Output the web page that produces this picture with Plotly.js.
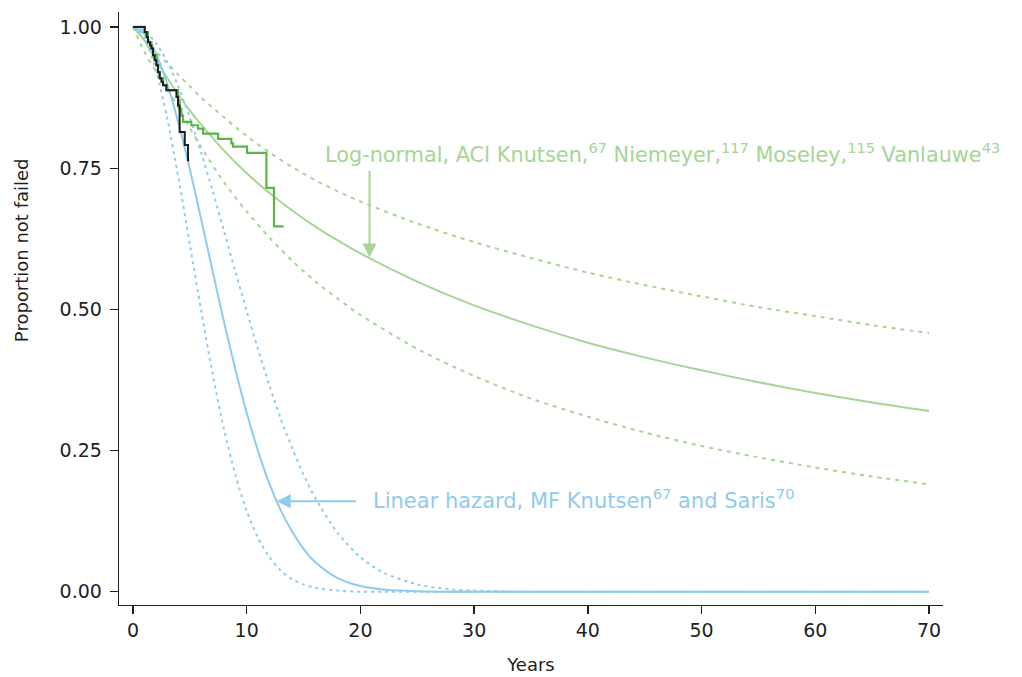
<!DOCTYPE html>
<html>
<head>
<meta charset="utf-8">
<script src="https://cdn.plot.ly/plotly-3.0.1.min.js"></script>
<style>
  html, body { margin: 0; padding: 0; background: #fff; }
  #chart { width: 1022px; height: 677px; }
</style>
</head>
<body>
<div id="chart"></div>
<script>
// Time grid (years) for the fitted survival curves
const yearsFit = [0, 1, 2, 3, 4, 5, 6, 8, 10, 12, 14, 16, 18, 20, 25, 30, 35, 40, 45, 50, 55, 60, 65, 70];

// Log-normal fit (ACI) with its lower and upper bounds
const logNormal      = [1, 0.976, 0.942, 0.910, 0.880, 0.852, 0.827, 0.781, 0.741, 0.706, 0.675, 0.647, 0.622, 0.599, 0.549, 0.507, 0.472, 0.441, 0.415, 0.392, 0.371, 0.352, 0.335, 0.320];
const logNormalUpper = [1, 0.978, 0.957, 0.936, 0.915, 0.895, 0.875, 0.840, 0.807, 0.778, 0.752, 0.729, 0.709, 0.691, 0.652, 0.619, 0.591, 0.565, 0.543, 0.523, 0.504, 0.488, 0.472, 0.458];
const logNormalLower = [1, 0.956, 0.922, 0.890, 0.858, 0.821, 0.787, 0.725, 0.673, 0.627, 0.586, 0.550, 0.519, 0.490, 0.430, 0.382, 0.342, 0.310, 0.282, 0.258, 0.238, 0.220, 0.204, 0.190];

// Time grid (years) for the linear-hazard fit (MF)
const yearsLin = [0, 1, 2, 3, 4, 5, 6, 7, 8, 9, 10, 11, 12, 13, 14, 15, 16, 18, 20, 22, 25, 28, 30, 35, 40, 50, 60, 70];
const linHazard      = [1, 0.988, 0.954, 0.900, 0.830, 0.748, 0.659, 0.568, 0.478, 0.394, 0.317, 0.249, 0.191, 0.144, 0.106, 0.076, 0.053, 0.024, 0.010, 0.004, 0.001, 0, 0, 0, 0, 0, 0, 0];
const linHazardLower = [1, 0.981, 0.925, 0.839, 0.733, 0.615, 0.497, 0.386, 0.288, 0.207, 0.143, 0.095, 0.061, 0.037, 0.022, 0.013, 0.007, 0.002, 0, 0, 0, 0, 0, 0, 0, 0, 0, 0];
const linHazardUpper = [1, 0.993, 0.972, 0.939, 0.894, 0.839, 0.777, 0.710, 0.639, 0.567, 0.497, 0.429, 0.365, 0.306, 0.254, 0.207, 0.167, 0.104, 0.061, 0.034, 0.013, 0.004, 0.002, 0, 0, 0, 0, 0];

// Kaplan-Meier estimate, ACI
const kmAciYears = [0, 1.03, 1.32, 1.62, 1.76, 2.06, 2.2, 2.35, 2.64, 2.94, 3.96, 4.1, 4.25, 4.4, 5.13, 5.72, 6.16, 7.48, 8.65, 8.8, 10.03, 11.73, 12.4, 13.25];
const kmAci      = [1, 0.991, 0.973, 0.962, 0.950, 0.932, 0.920, 0.909, 0.897, 0.888, 0.870, 0.855, 0.843, 0.832, 0.826, 0.820, 0.811, 0.802, 0.794, 0.788, 0.777, 0.715, 0.647, 0.647];

// Kaplan-Meier estimate, MF
const kmMfYears = [0, 1.03, 1.2, 1.32, 1.5, 1.62, 1.76, 1.9, 2.06, 2.2, 2.35, 2.5, 2.64, 2.94, 3.82, 3.96, 4.1, 4.55, 4.84, 4.95];
const kmMf      = [1, 0.991, 0.982, 0.973, 0.967, 0.962, 0.950, 0.941, 0.932, 0.920, 0.909, 0.903, 0.897, 0.888, 0.876, 0.861, 0.814, 0.791, 0.764, 0.764];

// Axis ticks
const xTicks = [0, 10, 20, 30, 40, 50, 60, 70];
const yTicks = [0, 0.25, 0.5, 0.75, 1];
const yTickText = ['0.00', '0.25', '0.50', '0.75', '1.00'];

const GREEN_FIT = '#a6d595';
const GREEN_KM = '#5ab645';
const BLUE_FIT = '#8fcbee';
const FONT = '"DejaVu Sans", "Open Sans", sans-serif';
const INK = '#1f1f1f';

function curve(x, y, color, dash) {
  return {
    x: x, y: y, type: 'scatter', mode: 'lines',
    line: { color: color, width: 2, dash: dash, shape: 'spline', smoothing: 0.8 },
    hoverinfo: 'skip', showlegend: false
  };
}
function steps(x, y, color, width) {
  return {
    x: x, y: y, type: 'scatter', mode: 'lines',
    line: { color: color, width: width, shape: 'hv' },
    hoverinfo: 'skip', showlegend: false
  };
}

const traces = [
  curve(yearsFit, logNormalUpper, GREEN_FIT, '4px,5px'),
  curve(yearsFit, logNormalLower, GREEN_FIT, '4px,5px'),
  curve(yearsFit, logNormal, GREEN_FIT, 'solid'),
  curve(yearsLin, linHazardLower, BLUE_FIT, '3px,4px'),
  curve(yearsLin, linHazardUpper, BLUE_FIT, '3px,4px'),
  curve(yearsLin, linHazard, BLUE_FIT, 'solid'),
  steps(kmAciYears, kmAci, GREEN_KM, 2.2),
  steps(kmMfYears, kmMf, INK, 2)
];

const layout = {
  width: 1022, height: 677,
  margin: { l: 119, r: 79, t: 12, b: 72 },
  paper_bgcolor: '#ffffff', plot_bgcolor: '#ffffff',
  font: { family: FONT, size: 18, color: INK },
  showlegend: false,
  xaxis: {
    range: [-1.23, 71.23], tickvals: xTicks, ticks: 'outside', ticklen: 8,
    tickwidth: 1.3, tickcolor: INK, showline: true, linewidth: 1.3, linecolor: INK,
    tickfont: { size: 19 },
    showgrid: false, zeroline: false, fixedrange: true,
    title: { text: 'Years', font: { size: 18 }, standoff: 18 }
  },
  yaxis: {
    range: [-0.0235, 1.0265], tickvals: yTicks, ticktext: yTickText, ticks: 'outside', ticklen: 8,
    tickwidth: 1.3, tickcolor: INK, showline: true, linewidth: 1.3, linecolor: INK,
    tickfont: { size: 19 }, ticklabelstandoff: 4,
    showgrid: false, zeroline: false, fixedrange: true
  },
  annotations: [
    {
      xref: 'paper', yref: 'paper', x: -0.118, y: 0.598, xanchor: 'center', yanchor: 'middle',
      text: 'Proportion not failed', textangle: -90, showarrow: false,
      font: { size: 18, color: INK }
    },
    {
      x: 16.7, y: 0.7765, xanchor: 'left', yanchor: 'middle', showarrow: false,
      text: 'Log-normal, ACI Knutsen,<sup>67</sup> Niemeyer,<sup>117</sup> Moseley,<sup>115</sup> Vanlauwe<sup>43</sup>',
      font: { size: 20.8, color: GREEN_FIT }
    },
    {
      x: 20.8, y: 0.592, ax: 0, ay: -88, text: '', showarrow: true,
      arrowhead: 2, arrowsize: 1.4, arrowwidth: 2, arrowcolor: GREEN_FIT
    },
    {
      x: 20.9, y: 0.164, xanchor: 'left', yanchor: 'middle', showarrow: false,
      text: 'Linear hazard, MF Knutsen<sup>67</sup> and Saris<sup>70</sup>',
      font: { size: 21, color: BLUE_FIT }
    },
    {
      x: 12.64, y: 0.16, ax: 81, ay: 0, text: '', showarrow: true,
      arrowhead: 2, arrowsize: 1.4, arrowwidth: 2, arrowcolor: BLUE_FIT
    }
  ]
};

Plotly.newPlot('chart', traces, layout, { displayModeBar: false, staticPlot: true });
</script>
</body>
</html>
